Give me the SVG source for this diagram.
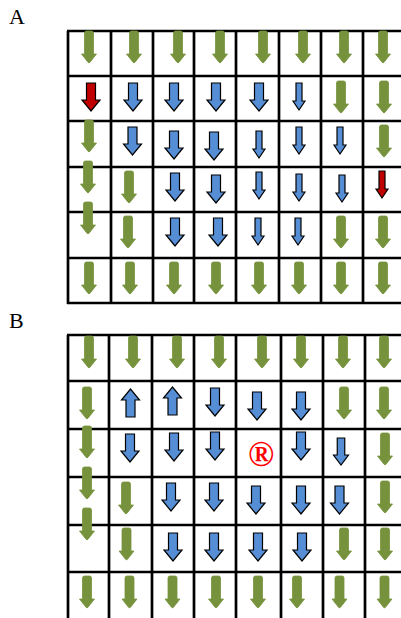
<svg xmlns="http://www.w3.org/2000/svg" xmlns:xlink="http://www.w3.org/1999/xlink" width="401" height="618" viewBox="0 0 401 618">
<style>
.grid line{stroke:#000;stroke-width:2.7}
.lbl{font-family:"Liberation Serif",serif;font-size:22px;fill:#000}
.g{fill:#76923C;stroke:#76923C;stroke-width:0.8;stroke-linejoin:round}
.b{fill:#558ED5;stroke:#000;stroke-width:1.2}
.r{fill:#C00000;stroke:#000;stroke-width:1.2}
.reg{font-family:"Liberation Serif",serif;font-size:35px;font-weight:bold;fill:#FF0000;text-anchor:middle}
</style>
<defs>
<path id="ga" d="M-4.5,2 Q-4.5,0 -2.5,0 H2.5 Q4.5,0 4.5,2 V23 H7.5 L1,31.3 Q0,32.3 -1,31.3 L-7.5,23 H-4.5 Z"/>
<path id="bw" d="M-4.5,0 H4.5 V17 H9 L0,28 L-9,17 H-4.5 Z"/>
<path id="bm" d="M-3.75,0 H3.75 V17 H7.5 L0,27 L-7.5,17 H-3.75 Z"/>
<path id="bt" d="M-3,0 H3 V18 H6 L0,27 L-6,18 H-3 Z"/>
</defs>
<text class="lbl" x="9" y="24">A</text>
<text class="lbl" x="9" y="328">B</text>
<g id="gridA" class="grid">
<line x1="68" y1="31" x2="68" y2="304"/><line x1="111" y1="31" x2="111" y2="304"/><line x1="153" y1="31" x2="153" y2="304"/><line x1="194" y1="31" x2="194" y2="304"/><line x1="236" y1="31" x2="236" y2="304"/><line x1="279" y1="31" x2="279" y2="304"/><line x1="321" y1="31" x2="321" y2="304"/><line x1="363" y1="31" x2="363" y2="304"/>
<line x1="67" y1="31" x2="401" y2="31"/><line x1="67" y1="76" x2="401" y2="76"/><line x1="67" y1="121" x2="401" y2="121"/><line x1="67" y1="167" x2="401" y2="167"/><line x1="67" y1="212" x2="401" y2="212"/><line x1="67" y1="258" x2="401" y2="258"/><line x1="67" y1="303" x2="401" y2="303"/>
</g>
<g id="gridB" class="grid">
<line x1="68" y1="335" x2="68" y2="618"/><line x1="109" y1="335" x2="109" y2="618"/><line x1="152" y1="335" x2="152" y2="618"/><line x1="194" y1="335" x2="194" y2="618"/><line x1="236" y1="335" x2="236" y2="618"/><line x1="281" y1="335" x2="281" y2="618"/><line x1="323" y1="335" x2="323" y2="618"/><line x1="365" y1="335" x2="365" y2="618"/>
<line x1="67" y1="335" x2="401" y2="335"/><line x1="67" y1="381" x2="401" y2="381"/><line x1="67" y1="429" x2="401" y2="429"/><line x1="67" y1="477" x2="401" y2="477"/><line x1="67" y1="525" x2="401" y2="525"/><line x1="67" y1="572" x2="401" y2="572"/>
</g>
<g id="arrowsA">
<g id="A-row1">
<use href="#ga" class="g" x="89" y="31"/><use href="#ga" class="g" x="134" y="31"/><use href="#ga" class="g" x="178" y="31"/><use href="#ga" class="g" x="220" y="31"/><use href="#ga" class="g" x="263" y="31"/><use href="#ga" class="g" x="303" y="31"/><use href="#ga" class="g" x="344" y="31"/><use href="#ga" class="g" x="383" y="31"/>
</g>
<g id="A-row2">
<use href="#bw" class="r" x="91" y="83"/><use href="#bw" class="b" x="133" y="83"/><use href="#bw" class="b" x="174" y="83"/><use href="#bw" class="b" x="216" y="83"/><use href="#bw" class="b" x="259" y="83"/><use href="#bt" class="b" x="299" y="83"/><use href="#ga" class="g" x="341" y="81"/><use href="#ga" class="g" x="384" y="81"/>
</g>
<g id="A-row3">
<use href="#ga" class="g" x="89" y="120"/><use href="#bw" class="b" x="132.5" y="127"/><use href="#bw" class="b" x="174" y="131"/><use href="#bw" class="b" x="214" y="132"/><use href="#bt" class="b" x="259" y="131"/><use href="#bt" class="b" x="299" y="127"/><use href="#bt" class="b" x="340" y="127"/><use href="#ga" class="g" x="384" y="125"/>
</g>
<g id="A-row4">
<use href="#ga" class="g" x="88" y="161"/><use href="#ga" class="g" x="129" y="171"/><use href="#bw" class="b" x="175" y="173"/><use href="#bw" class="b" x="216" y="175"/><use href="#bt" class="b" x="259" y="172"/><use href="#bt" class="b" x="299" y="174"/><use href="#bt" class="b" x="342" y="175"/><use href="#bt" class="r" x="382" y="171"/>
</g>
<g id="A-row5">
<use href="#ga" class="g" x="88" y="202"/><use href="#ga" class="g" x="128" y="216"/><use href="#bw" class="b" x="175" y="218"/><use href="#bw" class="b" x="218" y="218"/><use href="#bt" class="b" x="258" y="218"/><use href="#bt" class="b" x="298" y="218"/><use href="#ga" class="g" x="341" y="216"/><use href="#ga" class="g" x="383" y="216"/>
</g>
<g id="A-row6">
<use href="#ga" class="g" x="89" y="262"/><use href="#ga" class="g" x="130" y="262"/><use href="#ga" class="g" x="174" y="262"/><use href="#ga" class="g" x="216" y="262"/><use href="#ga" class="g" x="259" y="262"/><use href="#ga" class="g" x="299" y="262"/><use href="#ga" class="g" x="341" y="262"/><use href="#ga" class="g" x="383" y="262"/>
</g>
</g>
<g id="arrowsB">
<g id="B-row1">
<use href="#ga" class="g" x="89" y="336"/><use href="#ga" class="g" x="133" y="336"/><use href="#ga" class="g" x="177" y="336"/><use href="#ga" class="g" x="219" y="336"/><use href="#ga" class="g" x="262" y="336"/><use href="#ga" class="g" x="301" y="336"/><use href="#ga" class="g" x="343" y="336"/><use href="#ga" class="g" x="384" y="336"/>
</g>
<g id="B-row2">
<use href="#ga" class="g" x="87" y="387"/>
<use href="#bw" class="b" transform="translate(130.5,417) scale(1,-1)"/>
<use href="#bw" class="b" transform="translate(172.5,415) scale(1,-1)"/>
<use href="#bw" class="b" x="215" y="388"/><use href="#bw" class="b" x="257" y="392"/><use href="#bw" class="b" x="301" y="392"/><use href="#ga" class="g" x="344" y="387"/><use href="#ga" class="g" x="384" y="387"/>
</g>
<g id="B-row3">
<use href="#ga" class="g" x="87" y="426"/><use href="#bw" class="b" x="130" y="434"/><use href="#bw" class="b" x="174" y="433"/><use href="#bw" class="b" x="215" y="432"/>
<text class="reg" x="261" y="466">®</text>
<use href="#bw" class="b" x="301" y="432"/><use href="#bm" class="b" x="341" y="438"/><use href="#ga" class="g" x="385" y="433"/>
</g>
<g id="B-row4">
<use href="#ga" class="g" x="87" y="467"/><use href="#ga" class="g" x="126" y="482"/><use href="#bw" class="b" x="171" y="483"/><use href="#bw" class="b" x="214" y="483"/><use href="#bw" class="b" x="256" y="486"/><use href="#bw" class="b" x="301" y="486"/><use href="#bw" class="b" x="339.5" y="486"/><use href="#ga" class="g" x="385" y="481"/>
</g>
<g id="B-row5">
<use href="#ga" class="g" x="87" y="508"/><use href="#ga" class="g" x="126.5" y="528"/><use href="#bw" class="b" x="173" y="533"/><use href="#bw" class="b" x="214" y="533"/><use href="#bw" class="b" x="258" y="533"/><use href="#bw" class="b" x="302" y="533"/><use href="#ga" class="g" x="344" y="528"/><use href="#ga" class="g" x="385" y="528"/>
</g>
<g id="B-row6">
<use href="#ga" class="g" x="87" y="576"/><use href="#ga" class="g" x="129.5" y="576"/><use href="#ga" class="g" x="172.5" y="576"/><use href="#ga" class="g" x="216" y="576"/><use href="#ga" class="g" x="258" y="576"/><use href="#ga" class="g" x="297" y="576"/><use href="#ga" class="g" x="339.5" y="576"/><use href="#ga" class="g" x="384.5" y="576"/>
</g>
</g>
</svg>
